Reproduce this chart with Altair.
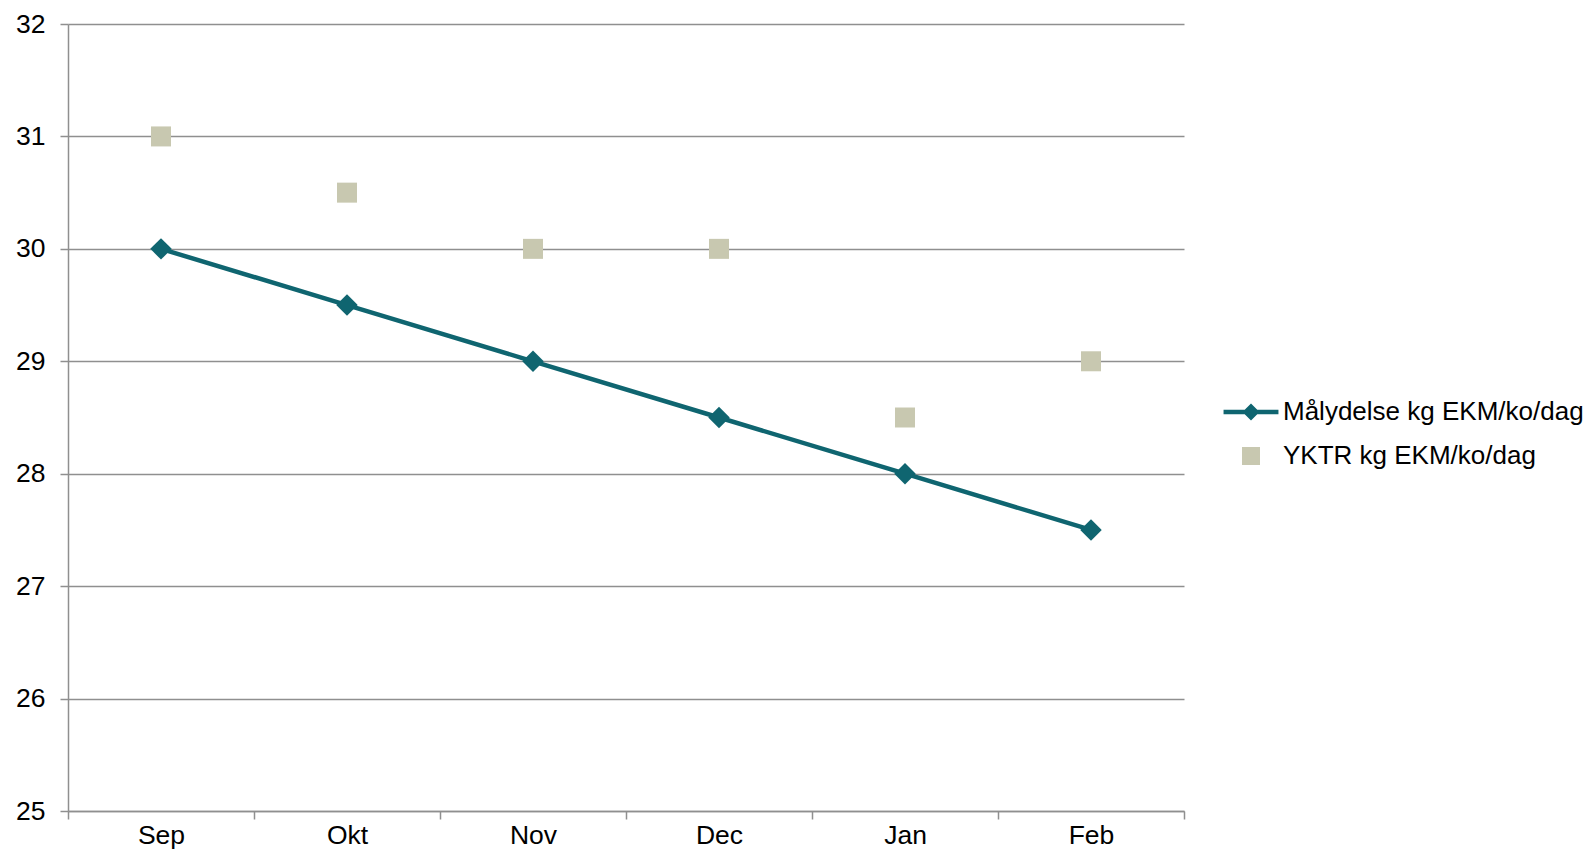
import altair as alt
import pandas as pd

months = ["Sep", "Okt", "Nov", "Dec", "Jan", "Feb"]
malydelse = [30, 29.5, 29, 28.5, 28, 27.5]
yktr = [31, 30.5, 30, 30, 28.5, 29]
series_names = ["Målydelse kg EKM/ko/dag", "YKTR kg EKM/ko/dag"]
y_ticks = [25, 26, 27, 28, 29, 30, 31, 32]

TEAL = "#0F6570"
BEIGE = "#C8C8B0"
GRID = "#8F8F8F"
FONT = "Liberation Sans"
FS = 26.5

df1 = pd.DataFrame({"month": months, "value": malydelse, "series": series_names[0]})
df2 = pd.DataFrame({"month": months, "value": yktr, "series": series_names[1]})

x_enc = alt.X(
    "month:N",
    sort=months,
    scale=alt.Scale(type="band", paddingInner=0, paddingOuter=0, domain=months),
    axis=alt.Axis(
        title=None, grid=False, tickBand="extent", labelAngle=0,
        labelFontSize=FS, labelFont=FONT, labelColor="#000000", labelPadding=3,
        tickSize=8, tickColor=GRID, tickWidth=1.5, domainColor=GRID, domainWidth=1.5,
    ),
)
y_enc = alt.Y(
    "value:Q",
    scale=alt.Scale(domain=[25, 32], nice=False, zero=False),
    axis=alt.Axis(
        title=None, values=y_ticks, grid=True, gridColor=GRID, gridWidth=1.3,
        labelFontSize=FS, labelFont=FONT, labelColor="#000000", labelPadding=15,
        tickSize=8, tickColor=GRID, tickWidth=1.5, domainColor=GRID, domainWidth=1.5,
    ),
)

line = alt.Chart(df1).mark_line(color=TEAL, strokeWidth=4.5).encode(x=x_enc, y=y_enc)
diamonds = alt.Chart(df1).mark_point(shape="diamond", filled=True, color=TEAL, size=460, opacity=1).encode(x=x_enc, y=y_enc)
squares = alt.Chart(df2).mark_point(shape="square", filled=True, color=BEIGE, size=400, opacity=1).encode(x=x_enc, y=y_enc)

legend_path = "M-3.05,-0.24L3.05,-0.24L3.05,0.24L-3.05,0.24Z M-0.95,0L0,-0.95L0.95,0L0,0.95Z"
legend_layer = alt.Chart(df1).mark_point(filled=True).encode(
    x=x_enc, y=y_enc,
    color=alt.Color("series:N", scale=alt.Scale(domain=series_names, range=[TEAL, BEIGE]),
                    legend=alt.Legend(title=None)),
    shape=alt.Shape("series:N", scale=alt.Scale(domain=series_names, range=[legend_path, "square"]),
                    legend=alt.Legend(title=None)),
).transform_filter("false")

chart = alt.layer(line, diamonds, squares, legend_layer).properties(
    width=1116, height=787,
    autosize=alt.AutoSizeParams(type="none"),
    padding={"left": 60, "top": 16, "right": 403, "bottom": 39},
).configure_view(stroke=None).configure_legend(
    orient="none", legendX=1170, legendY=375, padding=0,
    labelFontSize=26, labelFont=FONT, labelColor="#000000", labelOffset=19,
    symbolSize=324, symbolStrokeWidth=0, symbolOpacity=1, rowPadding=18,
    labelLimit=0,
)

chart.save("out.html", embed_options={"renderer": "svg", "actions": False})
